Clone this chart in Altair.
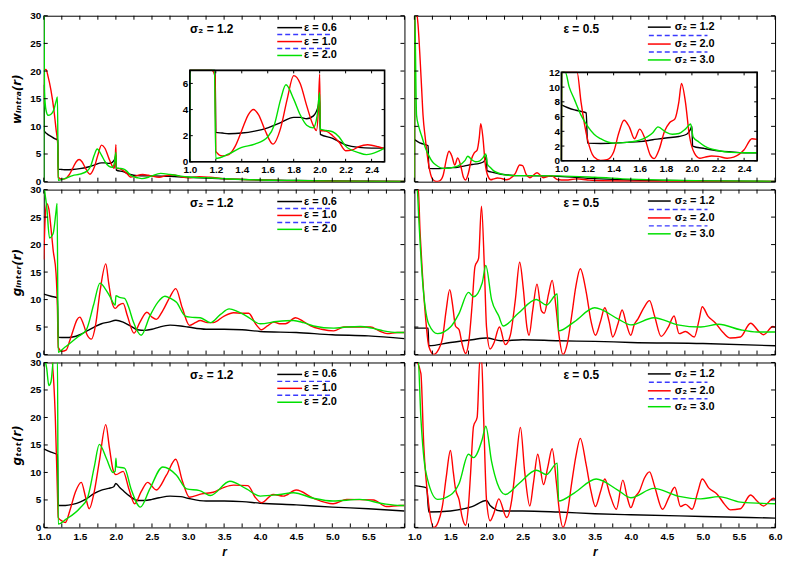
import altair as alt
import pandas as pd

FONT = "Liberation Sans"
COLORS = ["#000000", "#ff0000", "#00e000"]
SERIES = ["s1", "s2", "s3"]
DASH_COLOR = "#3a3aff"

# ---------------- tick / label values ----------------
Y_LABELS = [0, 5, 10, 15, 20, 25, 30]
Y_DOMAIN = [0, 30]
X_DOMAIN = [1.0, 6.0]
X_LABELS_LEFT = [1.0, 1.5, 2.0, 2.5, 3.0, 3.5, 4.0, 4.5, 5.0, 5.5]
X_LABELS_RIGHT = [1.0, 1.5, 2.0, 2.5, 3.0, 3.5, 4.0, 4.5, 5.0, 5.5, 6.0]
X_TICKS = [1.0, 1.25, 1.5, 1.75, 2.0, 2.25, 2.5, 2.75, 3.0, 3.25, 3.5, 3.75, 4.0,
           4.25, 4.5, 4.75, 5.0, 5.25, 5.5, 5.75, 6.0]
INSET_X_DOMAIN = [1.0, 2.5]
INSET_X_LABELS = [1.0, 1.2, 1.4, 1.6, 1.8, 2.0, 2.2, 2.4]
INSET_L_Y_DOMAIN = [0, 7]
INSET_L_Y_LABELS = [0, 2, 4, 6]
INSET_R_Y_DOMAIN = [0, 12]
INSET_R_Y_LABELS = [0, 2, 4, 6, 8, 10, 12]

LEGEND_LEFT = ["ε = 0.6", "ε = 1.0", "ε = 2.0"]
LEGEND_RIGHT = ["σ₂ = 1.2", "σ₂ = 2.0", "σ₂ = 3.0"]
ANNOT_LEFT = "σ₂ = 1.2"
ANNOT_RIGHT = "ε = 0.5"
Y_TITLES = ["wᵢₙₜᵣₐ(r)", "gᵢₙₜₑᵣ(r)", "gₜₒₜ(r)"]

# ---------------- curves: (r, value) ----------------
# top-left: w_intra, sigma2 = 1.2
TL_E06 = [(1.0, 17.5), (1.005, 9.2), (1.05, 8.6), (1.1, 8.2), (1.15, 7.8), (1.195, 7.5), (1.2, 2.25),
          (1.25, 2.2), (1.3, 2.15), (1.4, 2.2), (1.5, 2.35), (1.6, 2.6), (1.7, 3.0), (1.8, 3.4),
          (1.85, 3.4), (1.9, 3.3), (1.95, 3.5), (1.99, 4.3), (2.0, 4.8), (2.005, 2.1), (2.1, 1.8),
          (2.2, 1.3), (2.3, 1.1), (2.4, 1.05), (2.5, 1.05), (2.75, 0.95), (3.0, 0.8), (3.5, 0.5),
          (4.0, 0.3), (4.5, 0.2), (5.0, 0.12), (5.5, 0.08), (6.0, 0.05)]
TL_E10 = [(1.0, 14.0), (1.01, 20.2), (1.03, 20.3), (1.06, 19.0), (1.1, 16.5), (1.14, 13.0), (1.17, 9.5),
          (1.195, 6.5), (1.2, 0.8), (1.25, 0.45), (1.3, 0.55), (1.35, 1.2), (1.4, 2.4), (1.45, 3.6),
          (1.49, 4.0), (1.53, 3.6), (1.58, 2.4), (1.64, 1.35), (1.7, 2.6), (1.75, 4.8), (1.8, 6.6),
          (1.85, 6.0), (1.9, 4.3), (1.95, 2.8), (1.975, 2.4), (1.99, 4.0), (2.0, 6.7), (2.005, 2.4),
          (2.05, 2.35), (2.1, 2.0), (2.15, 1.5), (2.2, 0.85), (2.25, 0.9), (2.3, 1.15), (2.37, 1.3),
          (2.45, 1.15), (2.5, 1.0), (2.6, 0.8), (2.7, 1.1), (2.8, 1.2), (2.9, 0.9), (3.0, 0.7),
          (3.15, 0.9), (3.3, 0.8), (3.5, 0.55), (3.75, 0.4), (4.0, 0.3), (4.5, 0.15), (5.0, 0.08),
          (6.0, 0.03)]
TL_E20 = [(1.0, 0.0), (1.002, 31.0), (1.01, 16.5), (1.03, 13.0), (1.06, 12.0), (1.1, 12.2), (1.14, 13.0),
          (1.17, 14.5), (1.19, 15.3), (1.2, 0.25), (1.3, 0.6), (1.4, 1.1), (1.5, 1.35), (1.6, 1.9),
          (1.65, 2.8), (1.7, 4.8), (1.74, 5.9), (1.8, 4.8), (1.85, 3.6), (1.9, 2.8), (1.95, 2.6),
          (1.98, 3.5), (2.0, 5.3), (2.005, 2.5), (2.05, 2.4), (2.1, 2.3), (2.15, 1.9), (2.2, 1.2),
          (2.3, 0.7), (2.36, 0.55), (2.45, 0.8), (2.5, 1.05), (2.62, 1.5), (2.75, 1.3), (2.9, 1.0),
          (3.0, 0.85), (3.25, 0.7), (3.5, 0.55), (4.0, 0.3), (4.5, 0.2), (5.0, 0.1), (6.0, 0.05)]

# top-right: w_intra, eps = 0.5
TR_S12 = [(1.0, 7.6), (1.05, 7.2), (1.1, 6.9), (1.15, 6.7), (1.19, 6.5), (1.2, 2.4), (1.3, 2.35),
          (1.4, 2.4), (1.5, 2.5), (1.6, 2.6), (1.7, 2.85), (1.8, 3.1), (1.9, 3.3), (1.96, 3.6),
          (1.99, 4.3), (2.0, 4.7), (2.005, 2.0), (2.1, 1.65), (2.2, 1.35), (2.3, 1.2), (2.4, 1.1),
          (2.5, 1.1), (3.0, 0.95), (3.5, 0.55), (4.0, 0.3), (4.5, 0.2), (5.0, 0.12), (6.0, 0.05)]
TR_S20 = [(1.0, 0.0), (1.003, 32.0), (1.05, 28.5), (1.08, 22.0), (1.1, 17.0), (1.12, 12.0), (1.15, 8.0),
          (1.2, 2.9), (1.25, 0.5), (1.3, 0.05), (1.35, 0.15), (1.4, 1.2), (1.44, 3.8), (1.48, 5.5),
          (1.52, 4.6), (1.56, 3.0), (1.6, 4.3), (1.64, 3.0), (1.68, 0.8), (1.71, 0.3), (1.75, 1.6),
          (1.79, 4.0), (1.83, 5.2), (1.87, 5.7), (1.9, 8.0), (1.92, 10.5), (1.95, 8.0), (1.98, 3.5),
          (2.02, 1.0), (2.06, 0.35), (2.1, 0.5), (2.15, 0.65), (2.2, 0.6), (2.27, 0.35), (2.32, 0.5),
          (2.4, 1.5), (2.46, 3.0), (2.5, 2.9), (2.55, 1.3), (2.6, 0.7), (2.7, 1.6), (2.79, 0.7),
          (2.9, 1.1), (2.98, 0.4), (3.1, 0.3), (3.25, 0.5), (3.4, 0.3), (3.5, 0.2), (4.0, 0.1),
          (5.0, 0.05), (6.0, 0.02)]
TR_S30 = [(1.0, 0.0), (1.003, 32.0), (1.03, 12.0), (1.06, 10.0), (1.1, 8.3), (1.15, 6.2), (1.2, 4.7),
          (1.25, 3.6), (1.3, 3.0), (1.4, 2.4), (1.5, 2.5), (1.6, 2.8), (1.7, 3.8), (1.74, 4.6),
          (1.8, 3.9), (1.85, 3.6), (1.9, 3.7), (1.95, 4.3), (1.99, 5.0), (2.01, 3.2), (2.05, 2.6),
          (2.1, 1.95), (2.2, 1.4), (2.3, 1.15), (2.4, 1.1), (2.5, 1.1), (3.0, 1.05), (3.5, 0.8),
          (4.0, 0.45), (4.5, 0.25), (5.0, 0.15), (6.0, 0.05)]

# middle-left: g_inter, sigma2 = 1.2
ML_E06 = [(1.0, 11.0), (1.1, 10.6), (1.19, 10.3), (1.2, 3.15), (1.3, 3.1), (1.4, 3.2), (1.5, 3.6),
          (1.6, 4.3), (1.7, 5.0), (1.8, 5.6), (1.9, 5.9), (2.0, 6.25), (2.1, 5.9), (2.2, 5.2),
          (2.3, 4.5), (2.4, 4.4), (2.5, 4.6), (2.6, 5.0), (2.75, 5.35), (2.9, 5.2), (3.0, 5.0),
          (3.25, 4.6), (3.5, 4.6), (3.75, 4.5), (4.0, 4.2), (4.5, 4.0), (5.0, 3.6), (5.5, 3.4),
          (6.0, 2.9)]
ML_E10 = [(1.0, 17.3), (1.02, 25.0), (1.04, 27.5), (1.07, 26.5), (1.1, 23.0), (1.13, 19.0), (1.17, 14.8),
          (1.19, 8.0), (1.2, 1.3), (1.25, 0.6), (1.31, 0.8), (1.36, 2.5), (1.41, 4.5), (1.46, 6.3),
          (1.5, 6.8), (1.55, 5.5), (1.6, 3.6), (1.66, 2.8), (1.72, 5.5), (1.78, 11.5), (1.86, 16.5),
          (1.9, 13.0), (1.94, 9.8), (1.99, 8.4), (2.04, 9.0), (2.1, 9.3), (2.16, 7.0), (2.25, 3.9),
          (2.33, 5.8), (2.43, 7.7), (2.5, 6.8), (2.56, 6.4), (2.65, 8.0), (2.75, 10.5), (2.83, 12.0),
          (2.92, 8.5), (3.02, 5.3), (3.1, 5.8), (3.17, 6.2), (3.27, 5.8), (3.35, 5.8), (3.5, 7.0),
          (3.63, 7.6), (3.75, 7.5), (3.84, 7.5), (3.94, 5.5), (4.02, 4.5), (4.1, 5.2), (4.19, 5.9),
          (4.27, 5.6), (4.35, 5.6), (4.49, 6.7), (4.6, 6.0), (4.7, 5.2), (4.85, 4.6), (5.02, 4.3),
          (5.16, 5.0), (5.35, 5.0), (5.53, 5.0), (5.65, 4.3), (5.76, 3.8), (5.9, 4.0), (6.0, 4.0)]
ML_E20 = [(1.0, 31.0), (1.02, 29.0), (1.04, 27.0), (1.08, 21.2), (1.13, 22.0), (1.17, 26.0), (1.185, 27.5),
          (1.2, 0.4), (1.28, 1.2), (1.36, 2.0), (1.47, 3.2), (1.59, 4.5), (1.69, 9.0), (1.78, 13.0),
          (1.85, 12.0), (1.92, 10.5), (1.99, 9.0), (2.0, 10.7), (2.05, 10.4), (2.12, 10.2), (2.18, 8.5),
          (2.24, 6.0), (2.35, 3.5), (2.47, 7.0), (2.58, 9.5), (2.68, 10.6), (2.76, 10.2), (2.84, 9.5),
          (2.96, 7.0), (3.03, 6.8), (3.17, 6.7), (3.31, 5.8), (3.45, 7.3), (3.57, 8.3), (3.69, 7.8),
          (3.81, 7.0), (4.0, 5.6), (4.23, 6.0), (4.46, 6.2), (4.6, 5.8), (4.74, 5.2), (5.02, 4.8),
          (5.2, 5.0), (5.39, 5.1), (5.55, 4.8), (5.71, 4.3), (5.9, 4.0), (6.0, 4.0)]

# middle-right: g_inter, eps = 0.5
MR_S12 = [(1.0, 4.8), (1.19, 4.8), (1.2, 1.6), (1.5, 2.2), (1.8, 2.7), (2.0, 3.0), (2.2, 2.5),
          (2.5, 2.7), (3.0, 2.5), (3.5, 2.4), (4.0, 2.2), (5.0, 2.0), (6.0, 1.6)]
MR_S20 = [(1.0, 31.0), (1.05, 31.0), (1.08, 22.0), (1.11, 15.0), (1.16, 6.0), (1.2, 1.5), (1.27, 0.0),
          (1.33, 0.8), (1.39, 3.0), (1.44, 8.0), (1.49, 11.8), (1.53, 9.0), (1.57, 5.2), (1.62, 4.5),
          (1.66, 2.0), (1.71, 0.2), (1.76, 3.0), (1.8, 9.0), (1.84, 16.0), (1.89, 17.5), (1.93, 27.0),
          (1.97, 16.0), (2.0, 5.0), (2.05, 1.0), (2.1, 2.0), (2.18, 5.0), (2.26, 1.8), (2.33, 3.5),
          (2.4, 10.0), (2.46, 16.8), (2.51, 12.0), (2.56, 5.0), (2.59, 3.5), (2.64, 8.0), (2.7, 12.8),
          (2.76, 8.0), (2.8, 7.5), (2.86, 11.0), (2.91, 13.5), (2.96, 9.0), (3.0, 4.0), (3.06, 0.0),
          (3.12, 2.0), (3.18, 7.0), (3.24, 12.5), (3.3, 15.6), (3.38, 11.5), (3.45, 6.0), (3.51, 3.5),
          (3.58, 6.0), (3.64, 8.5), (3.7, 6.0), (3.75, 3.2), (3.82, 5.5), (3.88, 8.1), (3.94, 5.5),
          (4.0, 3.5), (4.05, 5.5), (4.1, 6.5), (4.18, 8.5), (4.26, 9.8), (4.33, 7.0), (4.42, 3.3),
          (4.52, 5.0), (4.6, 7.0), (4.67, 3.8), (4.76, 4.2), (4.88, 3.2), (4.95, 6.5), (4.99, 8.7),
          (5.07, 7.0), (5.17, 5.8), (5.28, 4.0), (5.38, 3.0), (5.52, 3.2), (5.66, 5.7), (5.79, 4.0),
          (5.84, 3.6), (5.97, 5.1), (6.0, 5.0)]
MR_S30 = [(1.0, 31.0), (1.04, 30.0), (1.06, 25.0), (1.11, 14.0), (1.2, 5.5), (1.32, 3.8), (1.5, 5.0),
          (1.62, 7.5), (1.75, 11.3), (1.82, 10.5), (1.94, 13.0), (1.99, 16.2), (2.07, 10.0), (2.17, 7.0),
          (2.23, 5.2), (2.44, 7.5), (2.69, 10.0), (2.83, 9.0), (2.98, 11.0), (3.0, 4.3), (3.22, 6.0),
          (3.5, 8.5), (3.82, 6.5), (4.0, 5.4), (4.32, 6.7), (4.65, 5.4), (4.97, 5.0), (5.22, 5.5),
          (5.52, 4.5), (5.75, 4.1), (6.0, 4.1)]

# bottom-left: g_tot, sigma2 = 1.2
BL_E06 = [(1.0, 14.3), (1.1, 13.7), (1.19, 13.2), (1.2, 4.0), (1.3, 4.0), (1.4, 4.2), (1.5, 4.6),
          (1.6, 5.3), (1.7, 6.2), (1.8, 6.8), (1.9, 7.1), (1.97, 7.4), (2.0, 8.0), (2.05, 7.3),
          (2.1, 6.7), (2.2, 5.6), (2.3, 4.9), (2.4, 4.9), (2.5, 5.1), (2.6, 5.4), (2.75, 5.7),
          (2.9, 5.6), (3.0, 5.3), (3.25, 4.8), (3.5, 4.8), (3.75, 4.7), (4.0, 4.4), (4.5, 4.1),
          (5.0, 3.7), (5.5, 3.4), (6.0, 3.0)]
BL_E10 = [(1.0, 31.0), (1.1, 31.0), (1.14, 26.0), (1.16, 20.0), (1.19, 6.0), (1.2, 1.8), (1.25, 1.2),
          (1.3, 0.9), (1.36, 3.0), (1.44, 6.5), (1.52, 8.2), (1.58, 5.5), (1.63, 3.4), (1.7, 6.5),
          (1.77, 12.0), (1.86, 18.7), (1.91, 14.5), (1.96, 10.5), (2.0, 9.6), (2.1, 10.2), (2.18, 7.0),
          (2.26, 4.3), (2.35, 6.5), (2.44, 8.2), (2.56, 6.8), (2.7, 9.5), (2.83, 12.4), (2.92, 8.5),
          (3.02, 5.5), (3.19, 6.1), (3.35, 6.4), (3.5, 7.3), (3.63, 7.7), (3.83, 7.6), (3.93, 5.5),
          (4.02, 4.5), (4.18, 6.0), (4.32, 5.7), (4.5, 6.8), (4.74, 5.3), (5.01, 4.3), (5.2, 5.1),
          (5.57, 5.0), (5.75, 3.8), (5.94, 4.0), (6.0, 4.0)]
BL_E20 = [(1.0, 31.0), (1.04, 29.0), (1.07, 25.8), (1.1, 26.5), (1.14, 31.0), (1.19, 31.0), (1.2, 0.6),
          (1.31, 1.5), (1.5, 3.5), (1.61, 5.5), (1.7, 11.0), (1.77, 15.1), (1.87, 12.5), (1.96, 10.0),
          (1.99, 10.2), (2.0, 12.6), (2.01, 11.0), (2.12, 10.8), (2.21, 7.0), (2.34, 3.7), (2.47, 7.0),
          (2.65, 11.0), (2.84, 9.5), (2.98, 7.0), (3.16, 6.7), (3.31, 5.8), (3.58, 8.4), (3.81, 7.0),
          (4.0, 5.7), (4.27, 6.0), (4.46, 6.3), (4.74, 5.3), (5.01, 4.8), (5.38, 5.1), (5.71, 4.3),
          (5.94, 4.0), (6.0, 4.0)]

# bottom-right: g_tot, eps = 0.5
BR_S12 = [(1.0, 7.6), (1.17, 7.2), (1.2, 2.8), (1.5, 3.0), (1.8, 3.8), (2.0, 4.9), (2.05, 4.0),
          (2.2, 3.0), (2.5, 3.0), (3.0, 2.8), (3.5, 2.5), (4.0, 2.3), (5.0, 2.0), (6.0, 1.7)]
BR_S20 = [(1.0, 31.0), (1.09, 28.0), (1.13, 15.0), (1.2, 4.0), (1.27, 0.0), (1.33, 1.0), (1.39, 4.0),
          (1.44, 9.0), (1.5, 14.0), (1.54, 10.0), (1.57, 7.0), (1.62, 5.0), (1.66, 2.0), (1.71, 0.4),
          (1.75, 4.0), (1.78, 10.0), (1.82, 18.4), (1.87, 20.0), (1.91, 31.0), (1.93, 31.0), (1.96, 20.0),
          (2.0, 5.0), (2.05, 1.2), (2.1, 2.5), (2.17, 5.2), (2.28, 1.8), (2.35, 5.0), (2.41, 12.0),
          (2.47, 18.2), (2.53, 10.0), (2.6, 3.9), (2.65, 8.0), (2.71, 13.3), (2.79, 7.8), (2.85, 11.0),
          (2.91, 14.3), (2.97, 8.0), (3.01, 3.0), (3.06, 0.0), (3.12, 2.5), (3.18, 8.0), (3.24, 13.0),
          (3.3, 16.2), (3.38, 11.5), (3.45, 6.5), (3.51, 3.8), (3.58, 6.5), (3.64, 8.8), (3.71, 6.0),
          (3.8, 3.3), (3.89, 8.6), (3.95, 5.5), (4.0, 3.6), (4.06, 5.5), (4.12, 6.6), (4.19, 9.0),
          (4.26, 10.1), (4.33, 7.5), (4.44, 3.3), (4.53, 5.5), (4.61, 7.3), (4.69, 3.8), (4.76, 4.2),
          (4.85, 3.3), (4.93, 6.5), (4.99, 8.8), (5.08, 7.2), (5.2, 6.0), (5.3, 4.2), (5.38, 3.2),
          (5.52, 3.4), (5.66, 5.9), (5.75, 4.8), (5.84, 3.9), (5.98, 5.3), (6.0, 5.2)]
BR_S30 = [(1.0, 31.0), (1.05, 31.0), (1.09, 20.0), (1.16, 10.0), (1.32, 5.1), (1.5, 5.9), (1.62, 8.0),
          (1.75, 13.3), (1.82, 12.7), (1.94, 16.0), (1.99, 18.4), (2.07, 12.0), (2.15, 8.0), (2.26, 6.0),
          (2.45, 8.0), (2.69, 10.4), (2.83, 9.6), (2.98, 11.7), (3.0, 4.8), (3.22, 6.3), (3.52, 8.8),
          (3.82, 6.8), (4.0, 5.4), (4.32, 7.1), (4.65, 5.7), (4.97, 5.2), (5.22, 5.6), (5.52, 4.6),
          (6.0, 4.3)]

# ---------------- layout constants ----------------
W = 363
HEIGHTS = [167, 166, 166]
LEFT_ROWS = [12, 19, 26, 33, 40]
RIGHT_ROWS = [11.5, 20, 28.5, 36.5, 44.5]
INSET_L = dict(x=[147, 343], y=[55, 147])
INSET_R = dict(x=[148, 345], y=[57, 146])


def curves_df(curves):
    rows = []
    for s, pts in zip(SERIES, curves):
        for i, (r, v) in enumerate(pts):
            rows.append({"s": s, "r": r, "v": v, "i": i})
    return pd.DataFrame(rows)


COLOR = alt.Color("s:N", scale=alt.Scale(domain=SERIES, range=COLORS), legend=None)
ONE = pd.DataFrame({"k": [0]})


def main_layer(df, H, left, bottom, ytitle):
    xs = alt.Scale(domain=X_DOMAIN, nice=False, zero=False)
    ys = alt.Scale(domain=Y_DOMAIN, nice=False, zero=False)
    if bottom:
        xax = alt.Axis(values=X_LABELS_LEFT if left else X_LABELS_RIGHT, format=".1f", ticks=False,
                       domain=False, grid=False, labelPadding=4, title="r", titlePadding=5,
                       titleFontStyle="italic", labelFlush=False)
    else:
        xax = None
    if left:
        yax = alt.Axis(values=Y_LABELS, format="d", ticks=False, domain=False, grid=False,
                       labelPadding=3, title=ytitle, titlePadding=6, titleFont="DejaVu Sans",
                       titleFontStyle="italic", minExtent=14, maxExtent=14, labelFlush=False)
    else:
        yax = None
    lines = alt.Chart(df).mark_line(clip=True, strokeWidth=1.4, interpolate="monotone").encode(
        x=alt.X("r:Q", scale=xs, axis=xax),
        y=alt.Y("v:Q", scale=ys, axis=yax),
        color=COLOR,
        order="i:Q",
    )
    yt = pd.DataFrame({"t": Y_LABELS})
    xt = pd.DataFrame({"t": X_TICKS})
    tl = alt.Chart(yt).mark_rule(color="black", strokeWidth=1).encode(
        y=alt.Y("t:Q", scale=ys, axis=yax), x=alt.value(0), x2=alt.value(4))
    tr = alt.Chart(yt).mark_rule(color="black", strokeWidth=1).encode(
        y=alt.Y("t:Q", scale=ys, axis=yax), x=alt.value(W - 4), x2=alt.value(W))
    tt = alt.Chart(xt).mark_rule(color="black", strokeWidth=1).encode(
        x=alt.X("t:Q", scale=xs, axis=xax), y=alt.value(0), y2=alt.value(4))
    tb = alt.Chart(xt).mark_rule(color="black", strokeWidth=1).encode(
        x=alt.X("t:Q", scale=xs, axis=xax), y=alt.value(H - 4), y2=alt.value(H))
    return alt.layer(lines, tl, tr, tt, tb)


def legend_layers(left):
    labels = LEGEND_LEFT if left else LEGEND_RIGHT
    rows = LEFT_ROWS if left else RIGHT_ROWS
    dash = [235, 291] if left else [236, 295]
    lx = [235, 260] if left else [235, 258]
    tx = 262
    out = []
    for k, (lab, col) in enumerate(zip(labels, COLORS)):
        y = rows[2 * k]
        out.append(alt.Chart(ONE).mark_rule(color=col, strokeWidth=1.5).encode(
            x=alt.value(lx[0]), x2=alt.value(lx[1]), y=alt.value(y)))
        out.append(alt.Chart(ONE).mark_text(align="left", baseline="middle", font=FONT,
                                            fontWeight="bold", fontSize=11, color="black").encode(
            x=alt.value(tx), y=alt.value(y), text=alt.value(lab)))
    for k in range(2):
        y = rows[2 * k + 1]
        out.append(alt.Chart(ONE).mark_rule(color=DASH_COLOR, strokeWidth=1.5, strokeDash=[5, 3]).encode(
            x=alt.value(dash[0]), x2=alt.value(dash[1]), y=alt.value(y)))
    out.append(alt.Chart(ONE).mark_text(align="center", baseline="middle", font=FONT,
                                        fontWeight="bold", fontSize=12, color="black").encode(
        x=alt.value(169 if left else 168), y=alt.value(13),
        text=alt.value(ANNOT_LEFT if left else ANNOT_RIGHT)))
    return out


def inset_layer(df, H, geo, ydom, ylabels):
    xs = alt.Scale(domain=INSET_X_DOMAIN, range=geo["x"], nice=False, zero=False)
    ys = alt.Scale(domain=ydom, range=[geo["y"][1], geo["y"][0]], nice=False, zero=False, clamp=True)
    xax = alt.Axis(values=INSET_X_LABELS, format=".1f", orient="bottom", offset=geo["y"][1] - H,
                   ticks=False, domain=False, grid=False, labelPadding=3, title=None, labelFlush=False)
    yax = alt.Axis(values=ylabels, format="d", orient="left", offset=-geo["x"][0], ticks=False,
                   domain=False, grid=False, labelPadding=2, title=None, labelFlush=False)
    box = pd.DataFrame({"x": [INSET_X_DOMAIN[0]], "x2": [INSET_X_DOMAIN[1]],
                        "y": [ydom[0]], "y2": [ydom[1]]})
    bg = alt.Chart(box).mark_rect(fill="white", stroke="black", strokeWidth=1).encode(
        x=alt.X("x:Q", scale=xs, axis=xax), x2="x2:Q",
        y=alt.Y("y:Q", scale=ys, axis=yax), y2="y2:Q")
    lines = alt.Chart(df).transform_filter(alt.datum.r <= INSET_X_DOMAIN[1]).mark_line(
        strokeWidth=1.4, interpolate="monotone").encode(
        x=alt.X("r:Q", scale=xs, axis=xax),
        y=alt.Y("v:Q", scale=ys, axis=yax),
        color=COLOR, order="i:Q")
    frame = alt.Chart(box).mark_rect(fillOpacity=0, stroke="black", strokeWidth=1.6).encode(
        x=alt.X("x:Q", scale=xs, axis=xax), x2="x2:Q",
        y=alt.Y("y:Q", scale=ys, axis=yax), y2="y2:Q")
    x0, x1 = geo["x"]
    y0, y1 = geo["y"]
    xt = pd.DataFrame({"t": INSET_X_LABELS})
    yt = pd.DataFrame({"t": ylabels})
    ticks = [
        alt.Chart(xt).mark_rule(color="black", strokeWidth=1).encode(
            x=alt.X("t:Q", scale=xs, axis=xax), y=alt.value(y1 - 3), y2=alt.value(y1)),
        alt.Chart(xt).mark_rule(color="black", strokeWidth=1).encode(
            x=alt.X("t:Q", scale=xs, axis=xax), y=alt.value(y0), y2=alt.value(y0 + 3)),
        alt.Chart(yt).mark_rule(color="black", strokeWidth=1).encode(
            y=alt.Y("t:Q", scale=ys, axis=yax), x=alt.value(x0), x2=alt.value(x0 + 3)),
        alt.Chart(yt).mark_rule(color="black", strokeWidth=1).encode(
            y=alt.Y("t:Q", scale=ys, axis=yax), x=alt.value(x1 - 3), x2=alt.value(x1)),
    ]
    return alt.layer(bg, lines, frame, *ticks)


def panel(curves, row, left):
    H = HEIGHTS[row]
    df = curves_df(curves)
    layers = [main_layer(df, H, left, row == 2, Y_TITLES[row])] + legend_layers(left)
    if row == 0:
        if left:
            layers.append(inset_layer(df, H, INSET_L, INSET_L_Y_DOMAIN, INSET_L_Y_LABELS))
        else:
            layers.append(inset_layer(df, H, INSET_R, INSET_R_Y_DOMAIN, INSET_R_Y_LABELS))
        ch = alt.layer(*layers).resolve_scale(x="independent", y="independent")
    else:
        ch = alt.layer(*layers)
    return ch.properties(width=W, height=H)


TL = panel([TL_E06, TL_E10, TL_E20], 0, True)
TR = panel([TR_S12, TR_S20, TR_S30], 0, False)
ML = panel([ML_E06, ML_E10, ML_E20], 1, True)
MR = panel([MR_S12, MR_S20, MR_S30], 1, False)
BL = panel([BL_E06, BL_E10, BL_E20], 2, True)
BR = panel([BR_S12, BR_S20, BR_S30], 2, False)

chart = alt.concat(TL, TR, ML, MR, BL, BR, columns=2,
                   spacing=alt.RowColnumber(row=8, column=10), bounds="flush").properties(
    padding={"left": 2, "top": 0, "right": 0, "bottom": 0}, background="white"
).configure_view(stroke="black", strokeWidth=1).configure_axis(
    labelFont=FONT, labelFontWeight="bold", labelFontSize=10, labelColor="black",
    titleFont=FONT, titleFontWeight="bold", titleFontSize=12, titleColor="black"
)

chart.save("out.html", embed_options={"renderer": "svg", "actions": False})
